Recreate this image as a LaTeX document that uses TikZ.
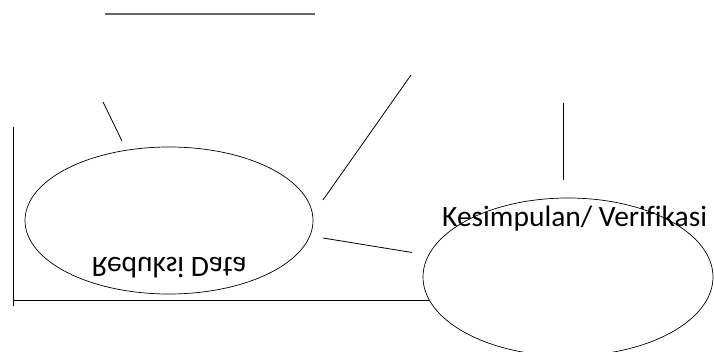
\documentclass[tikz,border=0pt]{standalone}
\usepackage{fontspec}
\usepackage{graphicx}
\setmainfont[Ligatures=NoCommon]{Carlito}
\usetikzlibrary{shapes.geometric}
\tikzset{
  oval/.style={draw=black, ellipse, line width=0.7pt, inner sep=0pt},
  stroke/.style={draw=black, line width=0.8pt},
  rule/.style={draw=black!60, line width=1.4pt},
  label/.style={inner sep=0pt, font=\fontsize{29.5}{34}\selectfont}
}
\begin{document}
\begin{tikzpicture}[x=1pt, y=-1pt]
  \useasboundingbox (0,0) rectangle (714,352);

  % ovals
  \node[oval, minimum width=288pt, minimum height=147pt] (reduksi) at (169,220.5) {};
  \node[oval, minimum width=290pt, minimum height=158pt] (kesimpulan) at (568,277) {};

  % labels
  \node[label, anchor=center] (redtext) at (169,267.5) {\scalebox{1}[-1]{Reduksi Data}};
  \node[label, anchor=base west] (kestext) at (442,227) {Kesimpulan/ Veri\kern0ptfikasi};

  % free line ends
  \coordinate (topA) at (105,14);
  \coordinate (topB) at (315,14);
  \coordinate (slantA) at (103,102);
  \coordinate (slantB) at (122,141);
  \coordinate (longA) at (411,75);
  \coordinate (longB) at (323,200);
  \coordinate (shortA) at (323,238);
  \coordinate (shortB) at (412,252.5);
  \coordinate (vertA) at (563,103);
  \coordinate (vertB) at (563,180);
  \coordinate (axisTop) at (13,127);
  \coordinate (axisBottom) at (13,306);
  \coordinate (axisCorner) at (13,300.5);
  \coordinate (axisEnd) at (429,300.5);

  % line segments
  \draw[rule] (topA) -- (topB);
  \draw[stroke] (slantA) -- (slantB);
  \draw[stroke] (longA) -- (longB);
  \draw[stroke] (shortA) -- (shortB);
  \draw[stroke] (vertA) -- (vertB);
  \draw[stroke] (axisTop) -- (axisBottom);
  \draw[stroke] (axisCorner) -- (axisEnd);
\end{tikzpicture}
\end{document}
